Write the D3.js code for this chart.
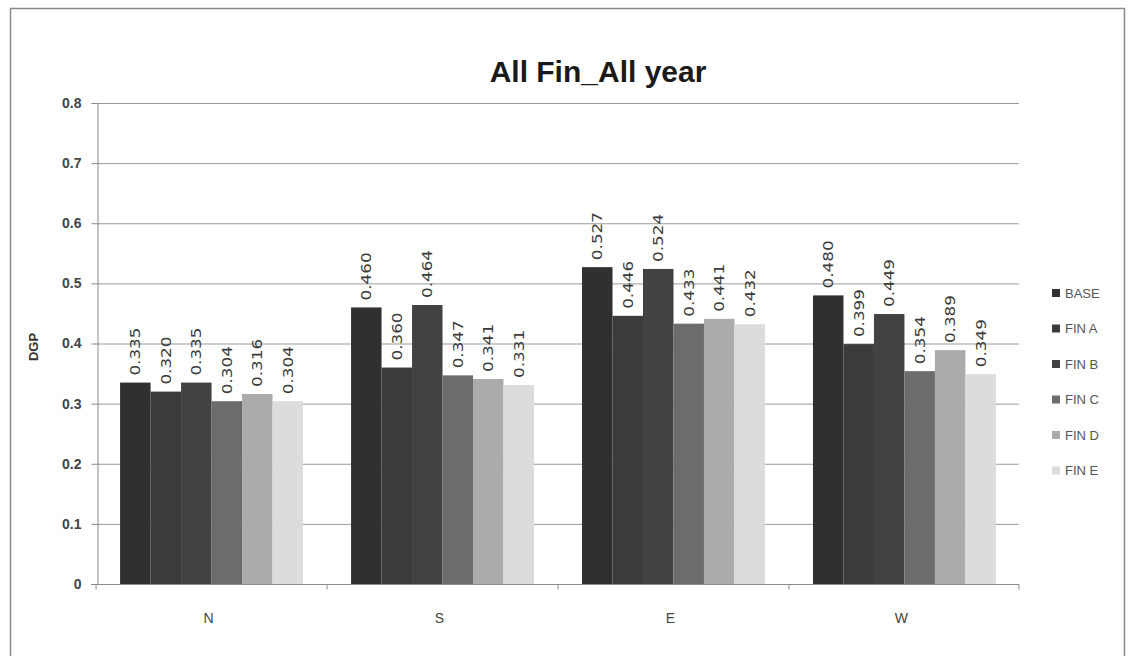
<!DOCTYPE html>
<html>
<head>
<meta charset="utf-8">
<script src="https://cdn.jsdelivr.net/npm/d3@7"></script>
<style>
  html, body { margin: 0; padding: 0; background: #fff; }
  svg { display: block; }
</style>
</head>
<body>
<svg id="chart" width="1128" height="656"></svg>
<script>
const title = "All Fin_All year";
const yTitle = "DGP";
const categories = ["N", "S", "E", "W"];
const seriesNames = ["BASE", "FIN A", "FIN B", "FIN C", "FIN D", "FIN E"];
const baseValues = [0.335, 0.460, 0.527, 0.480];
const finAValues = [0.320, 0.360, 0.446, 0.399];
const finBValues = [0.335, 0.464, 0.524, 0.449];
const finCValues = [0.304, 0.347, 0.433, 0.354];
const finDValues = [0.316, 0.341, 0.441, 0.389];
const finEValues = [0.304, 0.331, 0.432, 0.349];
const yTicks = [0, 0.1, 0.2, 0.3, 0.4, 0.5, 0.6, 0.7, 0.8];
const seriesColors = ["#303030", "#3b3b3b", "#424242", "#6c6c6c", "#ababab", "#dcdcdc"];

const seriesValues = [baseValues, finAValues, finBValues, finCValues, finDValues, finEValues];
const rows = categories.map((c, i) => ({
  cat: c,
  vals: seriesNames.map((s, j) => ({ series: s, value: seriesValues[j][i], idx: j }))
}));

const svg = d3.select("#chart");
const plot = { left: 97, right: 1019, top: 103, bottom: 584 };
const narrow = "'Liberation Sans Narrow', 'Liberation Sans', Arial, sans-serif";

// frame
svg.append("rect").attr("x", 10.5).attr("y", 8.5).attr("width", 1114).attr("height", 700)
  .attr("fill", "#fff").attr("stroke", "#8a8a8a").attr("stroke-width", 1.5);

const x = d3.scaleBand().domain(categories).range([plot.left, plot.right])
  .paddingInner(0.208).paddingOuter(0.1);
const xs = d3.scaleBand().domain(seriesNames).range([0, x.bandwidth()]);
const y = d3.scaleLinear().domain([0, 0.8]).range([plot.bottom, plot.top]);

// gridlines
svg.append("g").selectAll("line").data(yTicks.filter(t => t > 0)).join("line")
  .attr("x1", plot.left).attr("x2", plot.right)
  .attr("y1", d => y(d) + 0.5).attr("y2", d => y(d) + 0.5)
  .attr("stroke", "#9a9a9a").attr("stroke-width", 1);

// y axis
const yAxis = svg.append("g").attr("transform", `translate(${plot.left + 0.5},0)`)
  .call(d3.axisLeft(y).tickValues(yTicks).tickSize(6).tickPadding(10)
    .tickFormat(d => d === 0 ? "0" : d3.format(".1f")(d)));
yAxis.select(".domain").attr("stroke", "#8a8a8a");
yAxis.selectAll(".tick line").attr("stroke", "#8a8a8a");
yAxis.selectAll(".tick text").attr("font-family", narrow).attr("font-size", 14)
  .attr("fill", "#444").attr("font-weight", "bold");

// bars
const groups = svg.append("g").selectAll("g").data(rows).join("g")
  .attr("transform", d => `translate(${x(d.cat)},0)`);
groups.selectAll("rect").data(d => d.vals).join("rect")
  .attr("x", d => xs(d.series)).attr("width", xs.bandwidth())
  .attr("y", d => y(d.value)).attr("height", d => y(0) - y(d.value))
  .attr("fill", d => seriesColors[d.idx]);

// value labels
groups.selectAll("text").data(d => d.vals).join("text")
  .attr("transform", d => `translate(${xs(d.series) + xs.bandwidth() / 2 + 5},${y(d.value) - 7}) rotate(-90) scale(1.2,1)`)
  .attr("text-anchor", "start")
  .attr("font-family", "'DejaVu Sans', sans-serif").attr("font-size", 14)
  .attr("fill", "#3a3a3a")
  .text(d => d3.format(".3f")(d.value));

// x axis
const xAxis = svg.append("g").attr("transform", `translate(0,${plot.bottom + 0.5})`);
xAxis.append("line").attr("x1", plot.left - 6).attr("x2", plot.right).attr("stroke", "#8a8a8a");
const bounds = categories.map(c => x(c) - x.step() * x.paddingInner() / 2).concat([plot.right]);
xAxis.selectAll(".ct").data(bounds).join("line").attr("class", "ct")
  .attr("x1", d => d).attr("x2", d => d).attr("y1", 0).attr("y2", 5).attr("stroke", "#8a8a8a");
xAxis.selectAll("text").data(categories).join("text")
  .attr("x", d => x(d) + x.bandwidth() / 2 - 3).attr("y", 38)
  .attr("text-anchor", "middle").attr("font-family", narrow).attr("font-size", 14)
  .attr("fill", "#444").text(d => d);

// title
svg.append("text").attr("x", 598).attr("y", 82).attr("text-anchor", "middle")
  .attr("font-family", narrow).attr("font-weight", "bold").attr("font-size", 30)
  .attr("fill", "#1a1a1a").text(title);

// y title
svg.append("text").attr("transform", "translate(38,347) rotate(-90)")
  .attr("text-anchor", "middle").attr("font-family", narrow).attr("font-weight", "bold")
  .attr("font-size", 13).attr("fill", "#333").text(yTitle);

// legend
const legend = svg.append("g").selectAll("g").data(seriesNames).join("g")
  .attr("transform", (d, i) => `translate(1052,${293 + i * 35.5})`);
legend.append("rect").attr("x", 0).attr("y", -4).attr("width", 8).attr("height", 8)
  .attr("fill", (d, i) => seriesColors[i]);
legend.append("text").attr("x", 13).attr("y", 4.5)
  .attr("font-family", narrow).attr("font-size", 13).attr("fill", "#555").text(d => d);
</script>
</body>
</html>
